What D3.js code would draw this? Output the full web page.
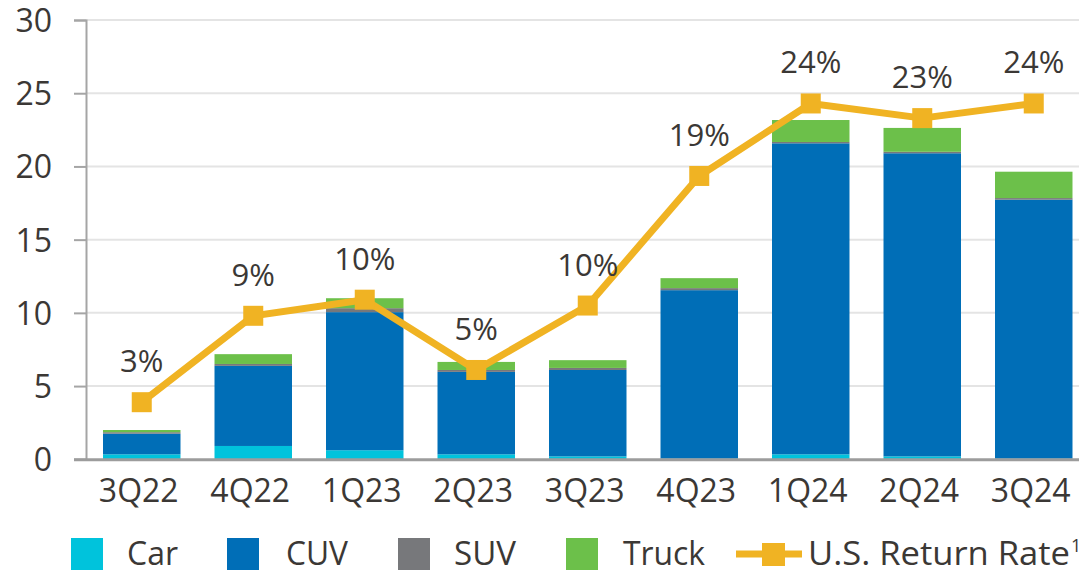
<!DOCTYPE html>
<html>
<head>
<meta charset="utf-8">
<script src="https://cdn.jsdelivr.net/npm/d3@7"></script>
<style>
  body { margin: 0; background: #fff; }
  text { font-family: "Open Sans", sans-serif; fill: #3b3835; }
</style>
</head>
<body>
<svg width="1079" height="570"></svg>
<script>
// data
const quarters = ["3Q22", "4Q22", "1Q23", "2Q23", "3Q23", "4Q23", "1Q24", "2Q24", "3Q24"]
const car   = [0.34, 0.91, 0.62, 0.34, 0.20, 0.05, 0.34, 0.20, 0.05]
const cuv   = [1.41, 5.47, 9.43, 5.63, 5.90, 11.50, 21.24, 20.70, 17.68]
const suv   = [0.10, 0.13, 0.27, 0.13, 0.14, 0.14, 0.09, 0.10, 0.11]
const truck = [0.15, 0.67, 0.68, 0.55, 0.53, 0.68, 1.50, 1.63, 1.80]
const returnRate = [3.9, 9.8, 10.9, 6.1, 10.5, 19.35, 24.3, 23.3, 24.3]
const rateLabels = ["3%", "9%", "10%", "5%", "10%", "19%", "24%", "23%", "24%"]
const yTicks = [0, 5, 10, 15, 20, 25, 30]

const seriesKeys = ["Car", "CUV", "SUV", "Truck"]
const colors = {Car: "#00c3dc", CUV: "#006eb7", SUV: "#77787b", Truck: "#6cc04a"}
const gold = "#f0b323"

const svg = d3.select("svg")
const plotLeft = 86, plotTop = 20, plotBottom = 459.3

const table = quarters.map((q, i) => ({q: q, Car: car[i], CUV: cuv[i], SUV: suv[i], Truck: truck[i]}))
const stack = d3.stack().keys(seriesKeys)(table)

const x = d3.scaleBand().domain(quarters).range([plotLeft, 1089.5]).paddingInner(0.305).paddingOuter(0.1525)
const y = d3.scaleLinear().domain([0, 30]).range([plotBottom, plotTop])

// gridlines
svg.append("g").selectAll("line")
  .data(yTicks.filter(d => d > 0))
  .join("line")
  .attr("x1", plotLeft).attr("x2", 1079)
  .attr("y1", d => y(d)).attr("y2", d => y(d))
  .attr("stroke", "#e4e4e4").attr("stroke-width", 2)

// y axis
const yAxis = svg.append("g")
  .attr("transform", `translate(${plotLeft},0)`)
  .call(d3.axisLeft(y).tickValues(yTicks).tickSize(12).tickPadding(22))
yAxis.select(".domain").attr("stroke", "#a5a5a5").attr("stroke-width", 2)
yAxis.selectAll(".tick line").attr("stroke", "#a5a5a5").attr("stroke-width", 2)
yAxis.selectAll(".tick text")
  .attr("font-size", 32).attr("font-family", "Open Sans").attr("fill", "#3b3835")
  .attr("dy", "0.36em")

// bars
svg.append("g").selectAll("g")
  .data(stack)
  .join("g")
  .attr("fill", d => colors[d.key])
  .selectAll("rect")
  .data(d => d)
  .join("rect")
  .attr("x", d => x(d.data.q))
  .attr("width", x.bandwidth())
  .attr("y", d => y(d[1]))
  .attr("height", d => y(d[0]) - y(d[1]))

// x axis baseline
svg.append("line")
  .attr("x1", plotLeft - 12).attr("x2", 1079)
  .attr("y1", plotBottom + 0.5).attr("y2", plotBottom + 0.5)
  .attr("stroke", "#9c9c9c").attr("stroke-width", 3)

svg.append("g").selectAll("text")
  .data(quarters)
  .join("text")
  .attr("x", d => x(d) + x.bandwidth() / 2 - 3)
  .attr("y", 502)
  .attr("text-anchor", "middle")
  .attr("font-size", 32)
  .text(d => d)

// return rate line
const cx = i => x(quarters[i]) + x.bandwidth() / 2
const line = d3.line().x((d, i) => cx(i)).y(d => y(d))

svg.append("path")
  .datum(returnRate)
  .attr("d", line)
  .attr("fill", "none")
  .attr("stroke", gold)
  .attr("stroke-width", 7)
  .attr("stroke-linejoin", "round")

svg.append("g").selectAll("rect")
  .data(returnRate)
  .join("rect")
  .attr("x", (d, i) => cx(i) - 10)
  .attr("y", d => y(d) - 10)
  .attr("width", 20).attr("height", 20)
  .attr("fill", gold)

svg.append("g").selectAll("text")
  .data(returnRate)
  .join("text")
  .attr("x", (d, i) => cx(i))
  .attr("y", d => y(d) - 30)
  .attr("text-anchor", "middle")
  .attr("font-size", 31)
  .text((d, i) => rateLabels[i])

// legend
const legendItems = [
  {key: "Car", sx: 71, tx: 127, tw: 51},
  {key: "CUV", sx: 227, tx: 286, tw: 62},
  {key: "SUV", sx: 398, tx: 454, tw: 62},
  {key: "Truck", sx: 566, tx: 623, tw: 82}
]
const lg = svg.append("g")
lg.selectAll("rect")
  .data(legendItems)
  .join("rect")
  .attr("x", d => d.sx).attr("y", 538)
  .attr("width", 32).attr("height", 32)
  .attr("fill", d => colors[d.key])
lg.selectAll("text.lab")
  .data(legendItems)
  .join("text")
  .attr("class", "lab")
  .attr("x", d => d.tx).attr("y", 565)
  .attr("font-size", 32)
  .attr("textLength", d => d.tw)
  .attr("lengthAdjust", "spacingAndGlyphs")
  .text(d => d.key)

lg.append("line")
  .attr("x1", 736).attr("x2", 802)
  .attr("y1", 554).attr("y2", 554)
  .attr("stroke", gold).attr("stroke-width", 7)
lg.append("rect")
  .attr("x", 762).attr("y", 543)
  .attr("width", 23).attr("height", 23)
  .attr("fill", gold)
lg.append("text")
  .attr("x", 808).attr("y", 565)
  .attr("font-size", 32)
  .attr("textLength", 262)
  .attr("lengthAdjust", "spacingAndGlyphs")
  .text("U.S. Return Rate")
lg.append("text")
  .attr("x", 1071).attr("y", 552)
  .attr("font-size", 18)
  .text("1")
</script>
</body>
</html>
